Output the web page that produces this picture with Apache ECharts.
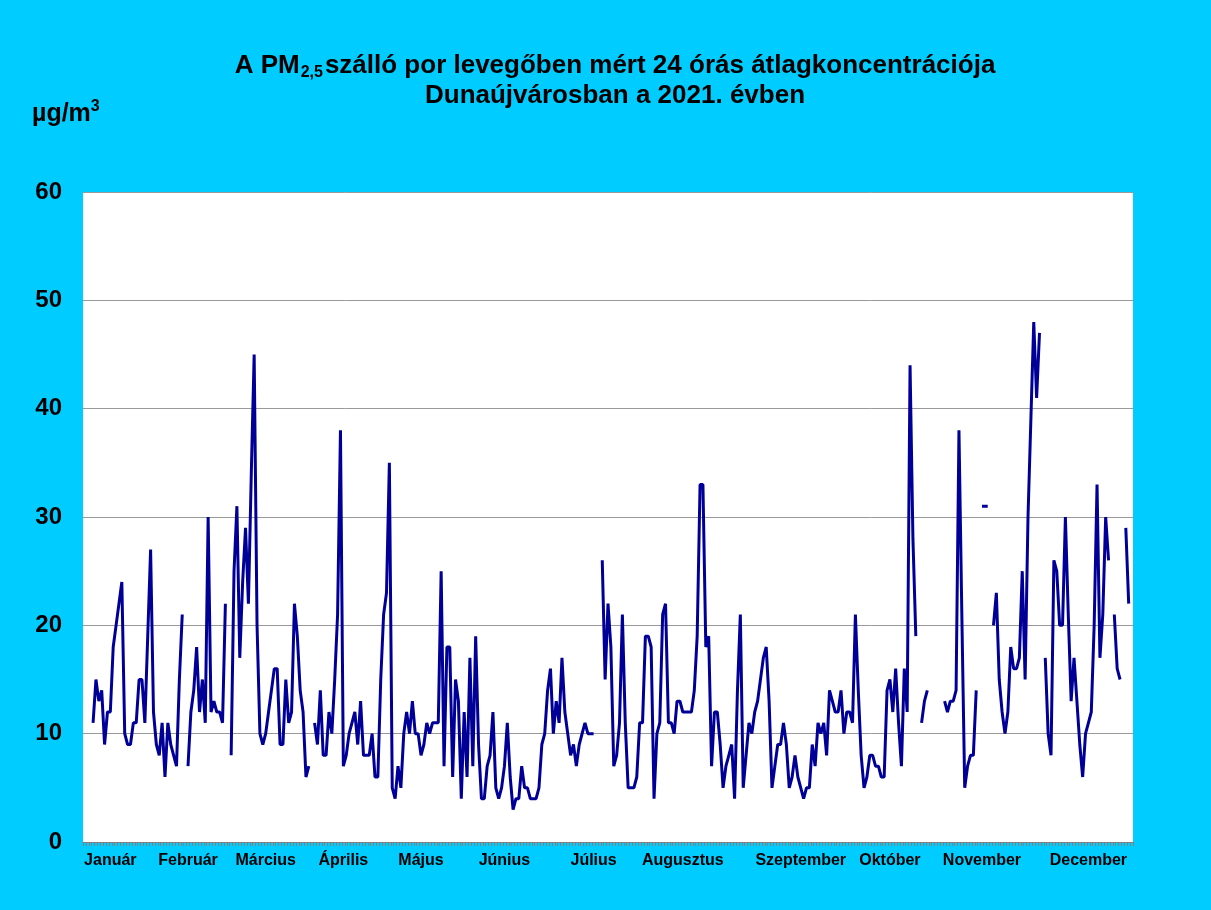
<!DOCTYPE html>
<html>
<head>
<meta charset="utf-8">
<title>PM2,5 Dunaújváros 2021</title>
<script src="https://cdn.jsdelivr.net/npm/echarts@6/dist/echarts.min.js"></script>
<style>
  html, body { margin: 0; padding: 0; background: #00ccff; }
  #chart { width: 1211px; height: 910px; }
</style>
</head>
<body>
<div id="chart"></div>
<script>
// napi 24 órás átlagok (µg/m3), havonta, null = nincs adat
var jan = [null, null, null, 11, 15, 13, 14, 9, 12, 12, 18, 20, 22, 24, 10, 9, 9, 11, 11, 15, 15, 11, 19, 27, 12, 9, 8, 11, 6, 11, 9];
var feb = [8, 7, 15, 21, null, 7, 12, 14, 18, 12, 15, 11, 30, 12, 13, 12, 12, 11, 22, null, 8, 25, 31, 17, 24, 29, 22, 34];
var mar = [45, 20, 10, 9, 10, 12, 14, 16, 16, 9, 9, 15, 11, 12, 22, 19, 14, 12, 6, 7, null, 11, 9, 14, 8, 8, 12, 10, 15, 21, 38];
var apr = [7, 8, 10, 11, 12, 9, 13, 8, 8, 8, 10, 6, 6, 15, 21, 23, 35, 5, 4, 7, 5, 10, 12, 10, 13, 10, 10, 8, 9, 11];
var maj = [10, 11, 11, 11, 25, 7, 18, 18, 6, 15, 13, 4, 12, 6, 17, 7, 19, 9, 4, 4, 7, 8, 12, 5, 4, 5, 7, 11, 6, 3, 4];
var jun = [4, 7, 5, 5, 4, 4, 4, 5, 9, 10, 14, 16, 10, 13, 11, 17, 12, 10, 8, 9, 7, 9, 10, 11, 10, 10, 10, null, null, 26];
var jul = [15, 22, 18, 7, 8, 11, 21, 11, 5, 5, 5, 6, 11, 11, 19, 19, 18, 4, 10, 11, 21, 22, 11, 11, 10, 13, 13, 12, 12, 12, 12];
var aug = [14, 19, 33, 33, 18, 19, 7, 12, 12, 9, 5, 7, 8, 9, 4, 14, 21, 5, 8, 11, 10, 12, 13, 15, 17, 18, 13, 5, 7, 9, 9];
var sep = [11, 9, 5, 6, 8, 6, 5, 4, 5, 5, 9, 7, 11, 10, 11, 8, 14, 13, 12, 12, 14, 10, 12, 12, 11, 21, 14, 8, 5, 6];
var okt = [8, 8, 7, 7, 6, 6, 14, 15, 12, 16, 11, 7, 16, 12, 44, 28, 19, null, 11, 13, 14, null, null, null, null, null, 13, 12, 13, 13, 14];
var nov = [38, 21, 5, 7, 8, 8, 14, null, 31, 31, 31, null, 20, 23, 15, 12, 10, 12, 18, 16, 16, 17, 25, 15, 30, 39, 48, 41, 47, null];
var dec = [17, 10, 8, 26, 25, 20, 20, 30, 21, 13, 17, 13, 9, 6, 10, 11, 12, 20, 33, 17, 21, 30, 26, null, 21, 16, 15, null, 29, 22, null];

// tengelyfeliratok
var monthNames = ['Január', 'Február', 'Március', 'Április', 'Május', 'Június',
                  'Július', 'Augusztus', 'Szeptember', 'Október', 'November', 'December'];
var labelDays = [9, 36, 63, 90, 117, 146, 177, 208, 249, 280, 312, 349];
var yTicks = [0, 10, 20, 30, 40, 50, 60];

var values = [].concat(jan, feb, mar, apr, maj, jun, jul, aug, sep, okt, nov, dec);
var days = values.map(function (v, i) { return String(i + 1); });

var myChart = echarts.init(document.getElementById('chart'));

var font = 'Liberation Sans, Arial, sans-serif';

var option = {
    backgroundColor: '#00ccff',
    animation: false,
    title: [{
        text: '{b|A PM}{s|2,5}{b|szálló por levegőben mért 24 órás átlagkoncentrációja}\n{b|Dunaújvárosban a 2021. évben}',
        left: 610,
        top: 46,
        textAlign: 'center',
        textStyle: {
            rich: {
                b: { fontFamily: font, fontWeight: 'bold', fontSize: 26, color: '#000', lineHeight: 30 },
                s: { fontFamily: font, fontWeight: 'bold', fontSize: 16, color: '#000', lineHeight: 30, verticalAlign: 'bottom', padding: [0, 2, 0, 1] }
            }
        }
    }, {
        text: '{b|µg/m}{p|3}',
        left: 27,
        top: 94,
        textStyle: {
            rich: {
                b: { fontFamily: font, fontWeight: 'bold', fontSize: 25, color: '#000', lineHeight: 30 },
                p: { fontFamily: font, fontWeight: 'bold', fontSize: 16, color: '#000', lineHeight: 30, verticalAlign: 'top' }
            }
        }
    }],
    grid: {
        left: 83,
        right: 78,
        top: 192,
        bottom: 68,
        show: true,
        backgroundColor: '#ffffff',
        borderWidth: 0
    },
    xAxis: {
        type: 'category',
        data: days,
        boundaryGap: true,
        axisLine: { lineStyle: { color: '#808080', width: 1 } },
        axisTick: { show: true, interval: 0, length: 4, lineStyle: { color: '#808080' } },
        axisLabel: {
            interval: function (index) { return labelDays.indexOf(index) >= 0; },
            formatter: function (value, index) {
                var k = labelDays.indexOf(index);
                return k >= 0 ? monthNames[k] : '';
            },
            fontFamily: font,
            fontWeight: 'bold',
            fontSize: 16,
            color: '#000',
            margin: 11
        },
        splitLine: { show: false }
    },
    yAxis: {
        type: 'value',
        min: yTicks[0],
        max: yTicks[yTicks.length - 1],
        interval: 10,
        axisLine: { show: false },
        axisTick: { show: false },
        axisLabel: {
            fontFamily: font,
            fontWeight: 'bold',
            fontSize: 24,
            color: '#000',
            margin: 21
        },
        splitLine: { lineStyle: { color: '#999999', width: 1 } }
    },
    series: [{
        name: 'PM2,5',
        type: 'line',
        data: values,
        showSymbol: false,
        connectNulls: false,
        lineStyle: { color: '#000099', width: 3 },
        itemStyle: { color: '#000099' }
    }]
};

myChart.setOption(option);
</script>
</body>
</html>
